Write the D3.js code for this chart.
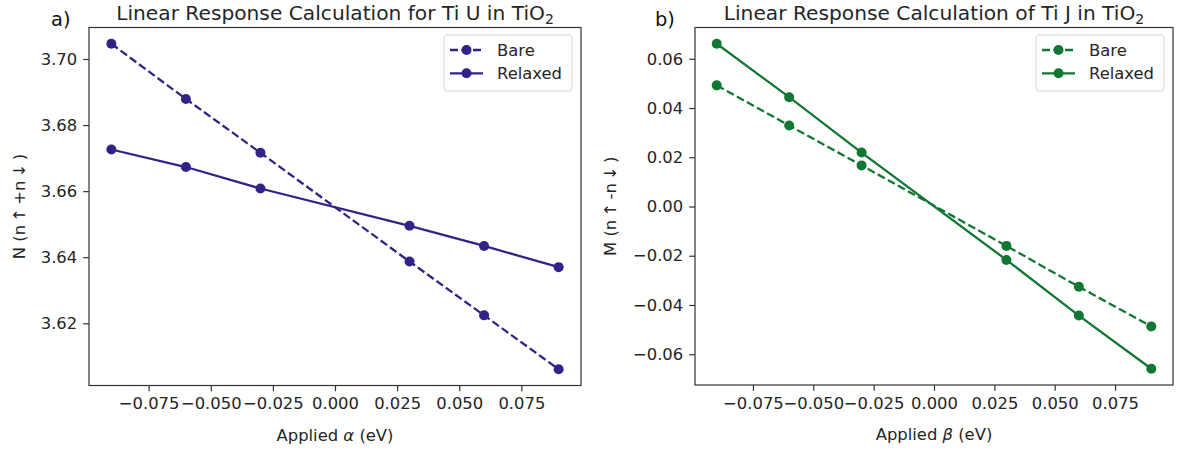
<!DOCTYPE html>
<html>
<head>
<meta charset="utf-8">
<script src="https://cdn.jsdelivr.net/npm/d3@7"></script>
<style>
  html, body { margin: 0; padding: 0; background: #fff; }
  svg { display: block; font-family: "DejaVu Sans", sans-serif; }
</style>
</head>
<body>
<svg id="fig" width="1177" height="450"></svg>
<script>
// Applied potentials (eV), shared by both panels
const applied = [-0.09, -0.06, -0.03, 0.03, 0.06, 0.09];

// Panel a) occupation N = n↑ + n↓ on Ti
const uBare    = [3.7046, 3.6879, 3.6716, 3.6387, 3.6224, 3.6061];
const uRelaxed = [3.6726, 3.6673, 3.6608, 3.6495, 3.6434, 3.6370];

// Panel b) magnetisation M = n↑ - n↓ on Ti
const jBare    = [0.0492, 0.0329, 0.0167, -0.0160, -0.0326, -0.0487];
const jRelaxed = [0.0661, 0.0444, 0.0219, -0.0217, -0.0443, -0.0659];

const xTicks  = [-0.075, -0.05, -0.025, 0, 0.025, 0.05, 0.075];
const uYTicks = [3.62, 3.64, 3.66, 3.68, 3.70];
const jYTicks = [-0.06, -0.04, -0.02, 0, 0.02, 0.04, 0.06];

const seriesNames = ["Bare", "Relaxed"];

const svg = d3.select("#fig");
const TEXT = "#262626";
const FS = 16.4;     // tick, label and legend font size
const FS_TITLE = 20.2;

function padded(vals) {
  const [lo, hi] = d3.extent(vals);
  const m = (hi - lo) * 0.05;
  return [lo - m, hi + m];
}

function drawPanel(opt) {
  const { left, right, top, bottom, color, bare, relaxed, yTicks, yFmt,
          title, tag, tagX, yLabel, xSym, yLabelX } = opt;

  const x = d3.scaleLinear().domain(padded(applied)).range([left, right]);
  const y = d3.scaleLinear().domain(padded(bare.concat(relaxed))).range([bottom, top]);

  const g = svg.append("g");

  // axes frame
  g.append("rect")
    .attr("x", left).attr("y", top)
    .attr("width", right - left).attr("height", bottom - top)
    .attr("fill", "none").attr("stroke", "#333").attr("stroke-width", 1.2);

  // x axis
  const xa = g.append("g").attr("transform", `translate(0,${bottom})`)
    .call(d3.axisBottom(x).tickValues(xTicks).tickFormat(d3.format(".3f"))
      .tickSize(5.8).tickPadding(6.5).tickSizeOuter(0));
  xa.select(".domain").remove();
  xa.selectAll("line").attr("stroke", "#333").attr("stroke-width", 1.2);
  xa.selectAll("text").attr("fill", TEXT).style("font-size", FS + "px")
    .style("font-family", "DejaVu Sans");

  // y axis
  const ya = g.append("g").attr("transform", `translate(${left},0)`)
    .call(d3.axisLeft(y).tickValues(yTicks).tickFormat(d3.format(yFmt))
      .tickSize(5.8).tickPadding(6).tickSizeOuter(0));
  ya.select(".domain").remove();
  ya.selectAll("line").attr("stroke", "#333").attr("stroke-width", 1.2);
  ya.selectAll("text").attr("fill", TEXT).style("font-size", FS + "px")
    .style("font-family", "DejaVu Sans");

  // lines and markers
  const line = d3.line().x((d, i) => x(applied[i])).y(d => y(d));
  const sets = [
    { vals: bare, dash: "8,3.5" },
    { vals: relaxed, dash: null }
  ];
  sets.forEach(s => {
    g.append("path").datum(s.vals)
      .attr("d", line)
      .attr("fill", "none").attr("stroke", color).attr("stroke-width", 2.3)
      .attr("stroke-dasharray", s.dash);
    g.selectAll(null).data(s.vals).enter().append("circle")
      .attr("cx", (d, i) => x(applied[i])).attr("cy", d => y(d))
      .attr("r", 5).attr("fill", color);
  });

  // title with subscript
  const t = g.append("text")
    .attr("x", (left + right) / 2).attr("y", 20)
    .attr("text-anchor", "middle").attr("fill", TEXT)
    .style("font-size", FS_TITLE + "px");
  t.append("tspan").text(title);
  t.append("tspan").attr("dy", 4).style("font-size", "14px").text("2");

  // panel tag
  g.append("text").attr("x", tagX).attr("y", 26)
    .attr("fill", "#111").style("font-size", "19.4px").text(tag);

  // x label
  const xl = g.append("text")
    .attr("x", (left + right) / 2).attr("y", bottom + 55)
    .attr("text-anchor", "middle").attr("fill", TEXT)
    .style("font-size", FS + "px");
  xl.append("tspan").text("Applied ");
  xl.append("tspan").style("font-style", "italic").text(xSym);
  xl.append("tspan").text(" (eV)");

  // y label
  g.append("text")
    .attr("transform", `translate(${yLabelX},${(top + bottom) / 2}) rotate(-90)`)
    .attr("text-anchor", "middle").attr("fill", TEXT)
    .style("font-size", FS + "px").text(yLabel);

  // legend
  const lw = 128, lh = 56;
  const lx = right - 9 - lw, ly = top + 7.5;
  const lg = g.append("g");
  lg.append("rect").attr("x", lx).attr("y", ly).attr("width", lw).attr("height", lh)
    .attr("rx", 3).attr("fill", "#fff").attr("fill-opacity", 0.8)
    .attr("stroke", "#d6d6d6").attr("stroke-width", 1);
  seriesNames.forEach((name, i) => {
    const ry = ly + 15 + i * 23.3;
    lg.append("line")
      .attr("x1", lx + 6).attr("x2", lx + 39).attr("y1", ry).attr("y2", ry)
      .attr("stroke", color).attr("stroke-width", 2.3)
      .attr("stroke-dasharray", i === 0 ? "8,3.5" : null);
    lg.append("circle").attr("cx", lx + 22.5).attr("cy", ry).attr("r", 5).attr("fill", color);
    lg.append("text").attr("x", lx + 53).attr("y", ry + 6)
      .attr("fill", TEXT).style("font-size", FS + "px").text(name);
  });
}

drawPanel({
  left: 89, right: 581, top: 27.5, bottom: 385.5,
  color: "#332288", bare: uBare, relaxed: uRelaxed,
  yTicks: uYTicks, yFmt: ".2f",
  title: "Linear Response Calculation for Ti U in TiO",
  tag: "a)", tagX: 51,
  yLabel: "N (n\u2009\u2191\u2009+n\u2009\u2193\u2009)", xSym: "\u03b1", yLabelX: 24.5
});

drawPanel({
  left: 695, right: 1173, top: 27.5, bottom: 385,
  color: "#117733", bare: jBare, relaxed: jRelaxed,
  yTicks: jYTicks, yFmt: ".2f",
  title: "Linear Response Calculation of Ti J in TiO",
  tag: "b)", tagX: 655,
  yLabel: "M (n\u2009\u2191\u2009-n\u2009\u2193\u2009)", xSym: "\u03b2", yLabelX: 616
});
</script>
</body>
</html>
